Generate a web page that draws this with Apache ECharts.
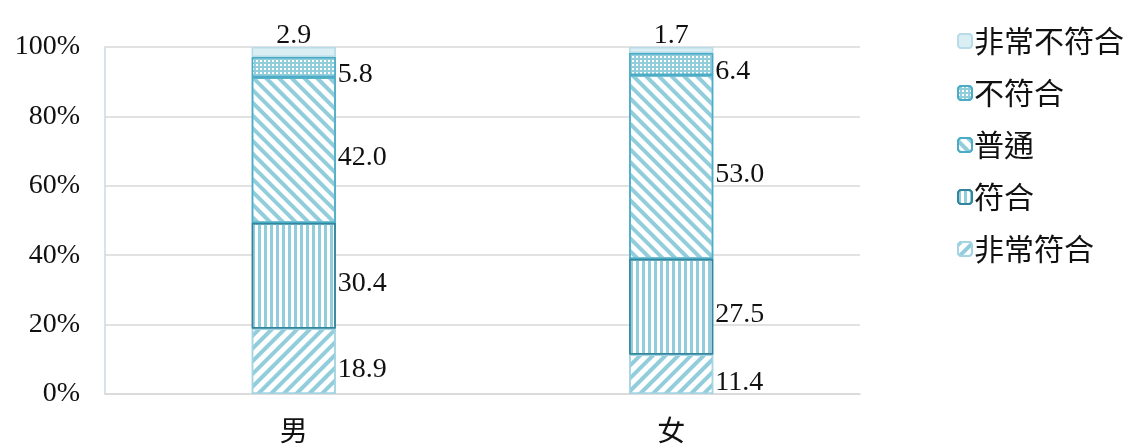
<!DOCTYPE html>
<html>
<head>
<meta charset="utf-8">
<script src="https://cdn.jsdelivr.net/npm/echarts@6/dist/echarts.min.js"></script>
<style>
  html, body {margin: 0; padding: 0; background: #fff;}
  #chart {width: 1137px; height: 448px;}
</style>
</head>
<body>
<div id="chart"></div>
<script>
var categories = ['男', '女'];
var series_names = ['非常符合', '符合', '普通', '不符合', '非常不符合'];
var very_agree = [18.9, 11.4];
var agree = [30.4, 27.5];
var neutral = [42.0, 53.0];
var disagree = [5.8, 6.4];
var very_disagree = [2.9, 1.7];
var y_ticks = [0, 20, 40, 60, 80, 100];

var num_font = "'Liberation Serif', 'Noto Sans CJK TC', serif";
var cjk_font = "'Noto Sans CJK TC', 'Liberation Serif', sans-serif";
var blue = '#92cddc';

function bar_series(name, data, border, decal, label_pos){
	return {
		name: name, type: 'bar', stack: 'total', data: data, barWidth: 84,
		itemStyle: {color: '#fff', borderColor: border, borderWidth: 1.5, decal: decal},
		label: {
			show: true, position: label_pos, distance: label_pos == 'top' ? 0 : 2,
			offset: label_pos == 'top' ? [0, 3] : [0, 8],
			color: '#111', fontFamily: num_font, fontSize: 28,
			formatter: function (p){ return p.value.toFixed(1); }
		}
	};
}

var myChart = echarts.init(document.getElementById('chart'));

var options = {
	animation: false,
	grid: {left: 105, right: 277, top: 47, bottom: 54},
	legend: {
		orient: 'vertical', left: 952, top: 21, itemGap: 22,
		itemWidth: 14, itemHeight: 14,
		data: series_names.slice().reverse(),
		textStyle: {fontFamily: cjk_font, fontSize: 30, color: '#111', padding: [0, 0, 0, -3]}
	},
	xAxis: {
		type: 'category', data: categories,
		axisLine: {lineStyle: {color: '#d9d9d9', width: 1.5}},
		axisTick: {show: false},
		axisLabel: {fontFamily: cjk_font, fontSize: 28, color: '#111', margin: 22}
	},
	yAxis: {
		type: 'value', min: y_ticks[0], max: y_ticks[y_ticks.length - 1], interval: 20,
		axisLine: {show: true, lineStyle: {color: '#c6dbe8', width: 1.5}},
		axisTick: {show: false},
		splitLine: {lineStyle: {color: '#d9d9d9', width: 1.5}},
		axisLabel: {fontFamily: num_font, fontSize: 28, color: '#111', margin: 25, formatter: '{value}%'}
	},
	series: [
		bar_series(series_names[0], very_agree, '#a5d5e2',
			{symbol: 'rect', color: blue, dashArrayX: [1, 0], dashArrayY: [4, 5], rotation: -Math.PI / 4}, 'right'),
		bar_series(series_names[1], agree, '#31859c',
			{symbol: 'rect', color: blue, dashArrayX: [3, 3], dashArrayY: [10, 0], rotation: 0}, 'right'),
		bar_series(series_names[2], neutral, '#4bacc6',
			{symbol: 'rect', color: blue, dashArrayX: [1, 0], dashArrayY: [4, 5], rotation: Math.PI / 4}, 'right'),
		bar_series(series_names[3], disagree, '#4bacc6',
			{symbol: 'rect', color: '#ffffff', backgroundColor: blue, dashArrayX: [2, 2], dashArrayY: [2, 2], rotation: 0}, 'right'),
		bar_series(series_names[4], very_disagree, '#b7dde8',
			{symbol: 'rect', color: '#dbeef4', dashArrayX: [1, 0], dashArrayY: [1, 0], rotation: 0}, 'top')
	]
};

myChart.setOption(options, true);
</script>
</body>
</html>
